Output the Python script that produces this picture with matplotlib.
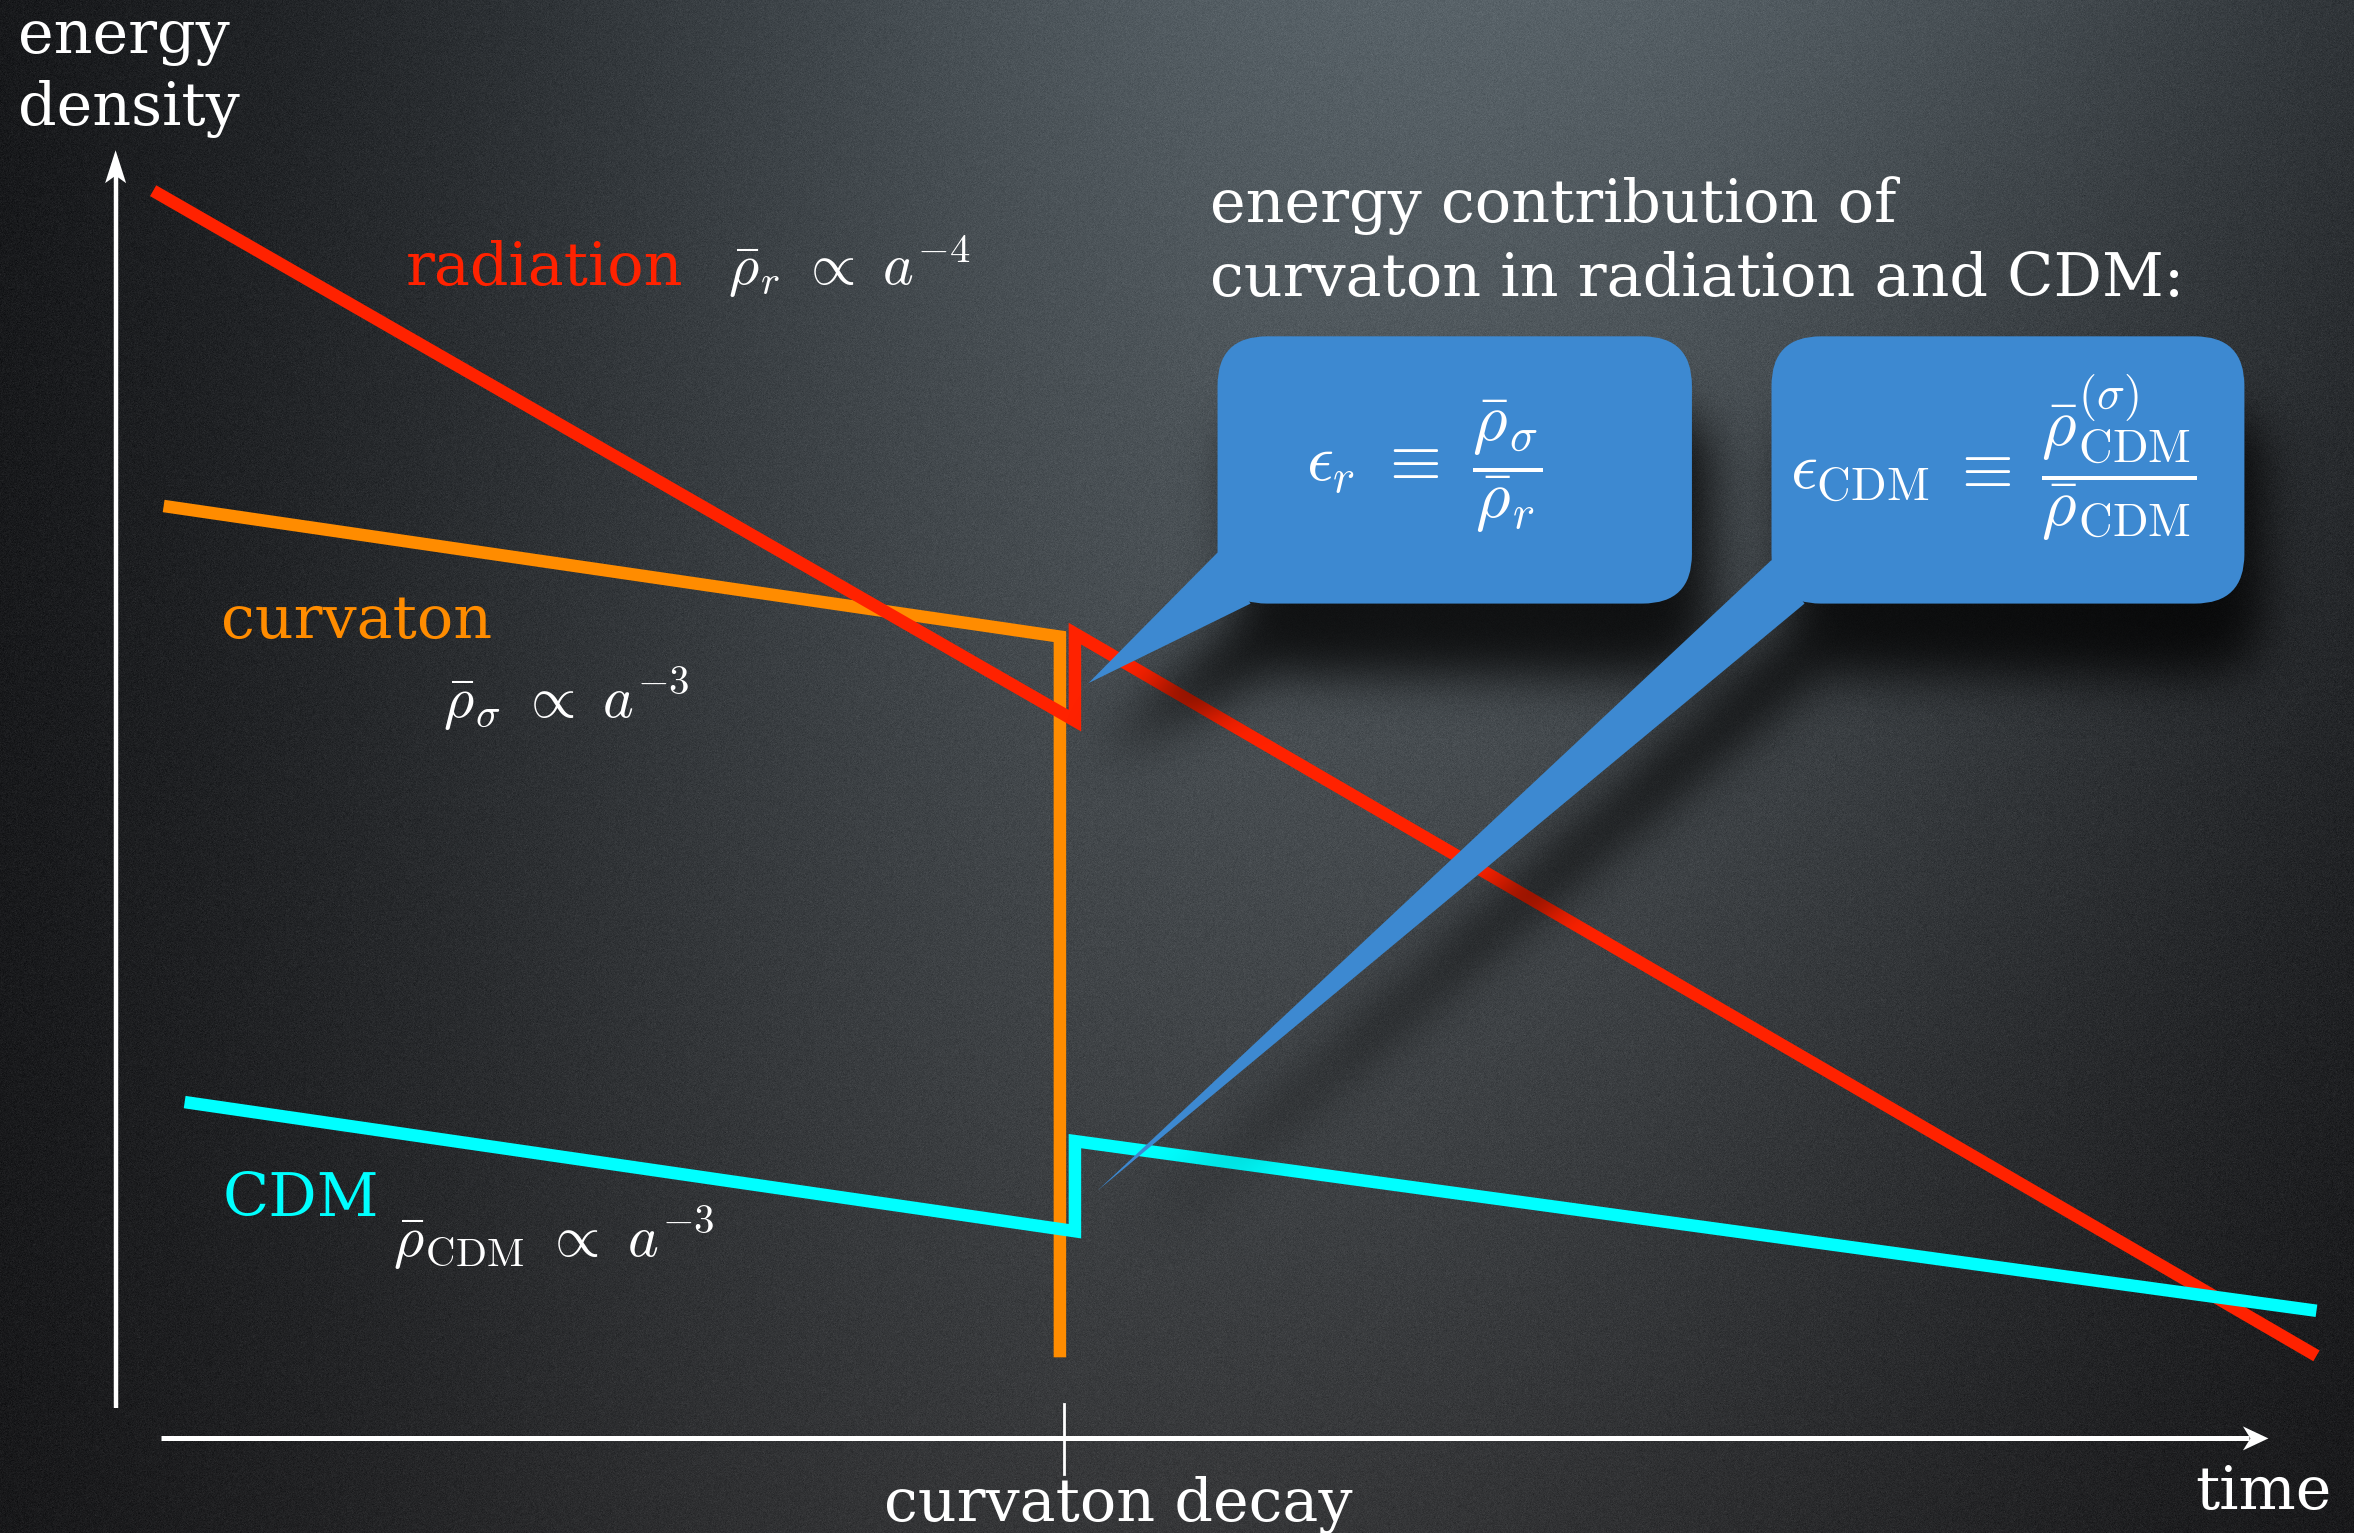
import numpy as np
import matplotlib.pyplot as plt
from matplotlib.patches import FancyBboxPatch, Polygon
from matplotlib.path import Path

plt.rcParams['mathtext.fontset'] = 'cm'
plt.rcParams['font.family'] = ['DejaVu Serif']

# drawing units (y grows upward)
W, H = 1568, 1021

# schematic curves: time vs log energy density
radiation_t = [102, 716, 716, 1543]
radiation_rho = [894, 541, 599, 118]
curvaton_t = [109, 706, 706]
curvaton_rho = [684, 597, 117]
cdm_t = [123, 716, 716, 1543]
cdm_rho = [287, 201, 261, 148]
decay_t = 709

RED = '#ff2200'
ORANGE = '#ff8c00'
CYAN = '#00ffff'
BOX = '#3d89d1'

fig = plt.figure(figsize=(23.54, 15.33), dpi=100)
ax = fig.add_axes([0, 0, 1, 1])

# dark spotlight background with a bit of grain
xs = np.linspace(0, W, 2354)
ys = np.linspace(H, 0, 1533)
X, Y = np.meshgrid(xs, ys)
t = (Y / H)[..., None]
cx = 790 + 180 * (Y / H)
spot = np.exp(-0.5 * ((X - cx) / 480) ** 2)[..., None]
top = np.array([74, 84, 88])
bottom = np.array([40, 41, 41])
base = np.array([14, 14, 16])
bg = base + (bottom + (top - bottom) * t) * spot
rng = np.random.default_rng(3)
bg = bg + rng.normal(0, 4, bg.shape[:2])[..., None]
bg = np.clip(bg, 0, 255) / 255
ax.imshow(bg, extent=(0, W, 0, H), origin='upper', zorder=0,
          interpolation='bilinear', aspect='auto')

# curves
line_kw = dict(lw=9, solid_joinstyle='miter', solid_capstyle='butt')
ax.plot(curvaton_t, curvaton_rho, color=ORANGE, zorder=2, **line_kw)
ax.plot(radiation_t, radiation_rho, color=RED, zorder=3, **line_kw)
ax.plot(cdm_t, cdm_rho, color=CYAN, zorder=4, **line_kw)

# axes arrows
ax.plot([77, 77], [83, 905], color='white', lw=3.2, zorder=5, solid_capstyle='butt')
ax.add_patch(Polygon([(77, 921), (70, 899), (77, 904), (84, 899)],
                     closed=True, fc='white', ec='none', zorder=5))
ax.plot([107, 1498], [63, 63], color='white', lw=3.6, zorder=5, solid_capstyle='butt')
ax.add_patch(Polygon([(1511, 63), (1494, 71), (1499, 63), (1494, 55)],
                     closed=True, fc='white', ec='none', zorder=5))
ax.plot([decay_t, decay_t], [39, 86], color='white', lw=2, zorder=5)

# labels
tkw = dict(fontsize=43.5, zorder=5)
ax.text(12, 986, 'energy', color='white', **tkw)
ax.text(12, 938, 'density', color='white', **tkw)
ax.text(806, 873, 'energy contribution of', color='white', **tkw)
ax.text(806, 824, 'curvaton in radiation and CDM:', color='white', **tkw)
ax.text(270, 831, 'radiation', color=RED, **tkw)
ax.text(147, 596, 'curvaton', color=ORANGE, **tkw)
ax.text(148, 211, 'CDM', color=CYAN, **tkw)
ax.text(745, 8, 'curvaton decay', color='white', ha='center', **tkw)
ax.text(1462, 16, 'time', color='white', **tkw)

mkw = dict(fontsize=42, color='white', zorder=5)
ax.text(485, 831, r'$\bar{\rho}_r\ \propto\ a^{-4}$', **mkw)
ax.text(295, 543, r'$\bar{\rho}_\sigma\ \propto\ a^{-3}$', **mkw)
ax.text(262, 184, r'$\bar{\rho}_{\rm CDM}\ \propto\ a^{-3}$', **mkw)

# callout boxes
boxes = [(811, 619, 1127, 797), (1180, 619, 1495, 797)]
pointers = [[(811, 653), (725, 566), (833, 619)],
            [(1180, 648), (731, 228), (1202, 619)]]
radius = 33

# soft drop shadow under the callouts
sdx, sdy = 12, -45
gx = np.arange(0, W, 4) + 2.0
gy = np.arange(0, H, 4) + 2.0
GX, GY = np.meshgrid(gx - sdx, gy - sdy)
mask = np.zeros(GX.shape, dtype=bool)
for x0, y0, x1, y1 in boxes:
    ddx = np.maximum(np.maximum(x0 + radius - GX, GX - (x1 - radius)), 0)
    ddy = np.maximum(np.maximum(y0 + radius - GY, GY - (y1 - radius)), 0)
    mask |= (ddx ** 2 + ddy ** 2) <= radius ** 2
pts = np.column_stack([GX.ravel(), GY.ravel()])
for tri in pointers:
    mask |= Path(tri).contains_points(pts).reshape(GX.shape)
k = np.exp(-0.5 * (np.arange(-14, 15) / 4.0) ** 2)
k /= k.sum()
sh = mask.astype(float)
sh = np.apply_along_axis(lambda r: np.convolve(r, k, mode='same'), 1, sh)
sh = np.apply_along_axis(lambda c: np.convolve(c, k, mode='same'), 0, sh)
rgba = np.zeros(sh.shape + (4,))
rgba[..., 3] = 0.78 * sh
ax.imshow(rgba, extent=(0, W, 0, H), origin='lower', zorder=6,
          interpolation='bilinear', aspect='auto')

for (x0, y0, x1, y1), tri in zip(boxes, pointers):
    ax.add_patch(FancyBboxPatch((x0, y0), x1 - x0, y1 - y0,
                                boxstyle=f'round,pad=0,rounding_size={radius}',
                                fc=BOX, ec='none', zorder=7))
    ax.add_patch(Polygon(tri, closed=True, fc=BOX, ec='none', zorder=7))

ax.text(949, 710, r'$\epsilon_r\ \equiv\ \dfrac{\bar{\rho}_\sigma}{\bar{\rho}_r}$',
        ha='center', va='center', fontsize=48, color='white', zorder=8)
ax.text(1328, 716,
        r'$\epsilon_{\rm CDM}\;\equiv\;\dfrac{\bar{\rho}^{(\sigma)}_{\rm CDM}}{\bar{\rho}_{\rm CDM}}$',
        ha='center', va='center', fontsize=48, color='white', zorder=8)

ax.set_xlim(0, W)
ax.set_ylim(0, H)
ax.axis('off')
fig.savefig('out.png', dpi=100)
